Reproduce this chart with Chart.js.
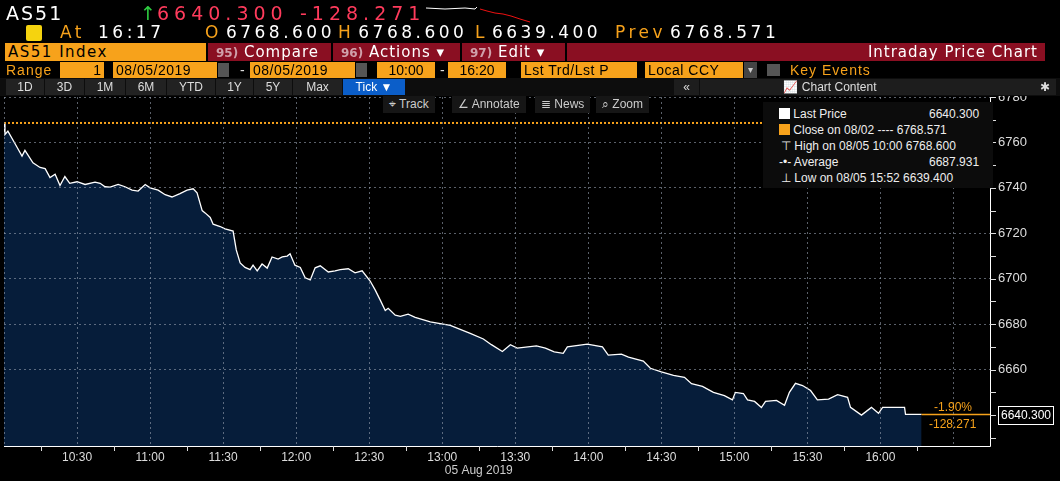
<!DOCTYPE html>
<html><head><meta charset="utf-8">
<script src="https://cdn.jsdelivr.net/npm/chart.js@4.4.1/dist/chart.umd.min.js"></script>
<style>
body{margin:0;background:#000;width:1060px;height:481px;overflow:hidden;font-family:"Liberation Sans",Arial,sans-serif;}
#c{position:absolute;left:0;top:0;}
.t{position:absolute;white-space:nowrap;line-height:1;}
.r1{font-family:"DejaVu Sans",sans-serif;font-size:19px;letter-spacing:5px;top:4px;}
.r2{font-family:"DejaVu Sans",sans-serif;font-size:17px;letter-spacing:3.5px;top:24px;}
.box{position:absolute;background:#f7a21b;color:#000;font-size:14px;line-height:16px;padding:0 3px;box-sizing:border-box;white-space:nowrap;}
.red{position:absolute;background:#8a0f22;color:#fff;font-family:"DejaVu Sans",sans-serif;font-size:15px;letter-spacing:1px;line-height:18px;box-sizing:border-box;white-space:nowrap;}
.red b{color:#d0a0aa;font-weight:bold;font-size:12px;letter-spacing:0;}
.btn{position:absolute;top:79px;height:16px;background:#222;color:#ddd;font-size:12px;line-height:16px;text-align:center;}
.tool{position:absolute;top:96px;height:17px;background:#161616;color:#ccc;font-size:12px;line-height:17px;padding:0 6px;}
.lg{position:absolute;font-size:12px;color:#eee;line-height:1;white-space:nowrap;}
</style></head><body>
<canvas id="c" width="1060" height="481"></canvas>

<div class="t r1" style="left:6px;color:#fff;letter-spacing:2px;">AS51</div>
<div class="t r1" style="left:140px;color:#2ecc40;">↑</div>
<div class="t r1" style="left:157px;color:#ff3b5c;">6640.300</div>
<div class="t r1" style="left:300px;color:#ff3b5c;">-128.271</div>
<svg style="position:absolute;left:425px;top:4px" width="110" height="22"><polyline points="1,4 20,5 40,4 50,5 52,3" stroke="#fff" fill="none" stroke-width="1"/><polyline points="55,5 62,7 70,9 78,10 86,12 95,15 105,18" stroke="#e11" fill="none" stroke-width="1"/></svg>
<div class="t" style="left:26px;top:25px;width:16px;height:16px;background:#f5d30f;border-radius:2px;"></div>
<div class="t r2" style="left:60px;color:#f7a21b;">At</div>
<div class="t r2" style="left:98px;color:#fff;">16:17</div>
<div class="t r2" style="left:205px;color:#f7a21b;">O<span style="color:#fff;margin-left:4px">6768.600</span></div>
<div class="t r2" style="left:338px;color:#f7a21b;">H<span style="color:#fff;margin-left:4px">6768.600</span></div>
<div class="t r2" style="left:475px;color:#f7a21b;">L<span style="color:#fff;margin-left:4px">6639.400</span></div>
<div class="t r2" style="left:615px;color:#f7a21b;">Prev<span style="color:#fff;margin-left:4px">6768.571</span></div>

<div class="box" style="left:5px;top:43px;width:201px;height:18px;font-family:'DejaVu Sans';font-size:15px;letter-spacing:1.5px;line-height:18px;">AS51 Index</div>
<div class="red" style="left:208px;top:43px;width:123px;height:18px;padding-left:8px;"><b>95)</b> Compare</div>
<div class="red" style="left:333px;top:43px;width:127px;height:18px;padding-left:8px;"><b>96)</b> Actions ▾</div>
<div class="red" style="left:462px;top:43px;width:103px;height:18px;padding-left:8px;"><b>97)</b> Edit ▾</div>
<div class="red" style="left:567px;top:43px;width:478px;height:18px;text-align:right;padding-right:7px;">Intraday Price Chart</div>

<div class="t" style="left:6px;top:63px;font-size:14px;color:#f7a21b;letter-spacing:1px;">Range</div>
<div class="box" style="left:60px;top:62px;width:44px;height:16px;text-align:right;">1</div>
<div class="box" style="left:113px;top:62px;width:104px;height:16px;letter-spacing:0.5px;">08/05/2019</div>
<div class="t" style="left:218px;top:63px;width:11px;height:14px;background:#555;"></div>
<div class="t" style="left:240px;top:63px;font-size:14px;color:#ddd;">-</div>
<div class="box" style="left:250px;top:62px;width:105px;height:16px;letter-spacing:0.5px;">08/05/2019</div>
<div class="t" style="left:356px;top:63px;width:11px;height:14px;background:#555;"></div>
<div class="box" style="left:377px;top:62px;width:58px;height:16px;text-align:center;">10:00</div>
<div class="t" style="left:440px;top:63px;font-size:14px;color:#ddd;">-</div>
<div class="box" style="left:448px;top:62px;width:58px;height:16px;text-align:center;">16:20</div>
<div class="box" style="left:521px;top:62px;width:116px;height:16px;letter-spacing:0.5px;">Lst Trd/Lst P</div>
<div class="box" style="left:645px;top:62px;width:98px;height:16px;letter-spacing:0.5px;">Local CCY</div>
<div class="t" style="left:744px;top:62px;width:13px;height:16px;background:#444;color:#ccc;font-size:10px;text-align:center;line-height:16px;">▾</div>
<div class="t" style="left:767px;top:64px;width:13px;height:12px;background:#555;"></div>
<div class="t" style="left:790px;top:63px;font-size:14px;color:#f7a21b;letter-spacing:1px;">Key Events</div>

<div style="position:absolute;left:0;top:78px;width:1060px;height:18px;background:#0d0d0d;"></div>
<div class="btn" style="left:6px;width:38px;">1D</div>
<div class="btn" style="left:45px;width:39px;">3D</div>
<div class="btn" style="left:85px;width:40px;">1M</div>
<div class="btn" style="left:126px;width:40px;">6M</div>
<div class="btn" style="left:167px;width:48px;">YTD</div>
<div class="btn" style="left:216px;width:37px;">1Y</div>
<div class="btn" style="left:254px;width:38px;">5Y</div>
<div class="btn" style="left:293px;width:49px;">Max</div>
<div class="btn" style="left:343px;width:62px;background:#0b5ec9;color:#fff;">Tick ▼</div>
<div class="btn" style="left:674px;width:25px;background:#1d1d1d;">«</div>
<div class="btn" style="left:700px;width:260px;background:#1d1d1d;">📈 Chart Content</div>
<div class="btn" style="left:926px;width:130px;background:#1d1d1d;text-align:right;padding-right:6px;box-sizing:border-box;">✱</div>
<div class="tool" style="left:383px;">⌖ Track</div>
<div class="tool" style="left:452px;">∠ Annotate</div>
<div class="tool" style="left:535px;">≣ News</div>
<div class="tool" style="left:596px;">⌕ Zoom</div>
<div style="position:absolute;left:763px;top:102px;width:230px;height:86px;background:#0c0c0c;"></div>
<div class="lg" style="left:779px;top:108px;"><span style="display:inline-block;width:11px;height:11px;background:#fff;vertical-align:-1px;"></span> Last Price</div>
<div class="lg" style="left:929px;top:108px;">6640.300</div>
<div class="lg" style="left:779px;top:124px;"><span style="display:inline-block;width:11px;height:11px;background:#f7a21b;vertical-align:-1px;"></span> Close on 08/02 ---- 6768.571</div>
<div class="lg" style="left:781px;top:140px;">⊤ High on 08/05 10:00 6768.600</div>
<div class="lg" style="left:779px;top:156px;">-•- Average</div>
<div class="lg" style="left:929px;top:156px;">6687.931</div>
<div class="lg" style="left:781px;top:172px;">⊥ Low on 08/05 15:52 6639.400</div>
<div class="t" style="left:934px;top:401px;font-size:12px;color:#f7a21b;">-1.90%</div>
<div class="t" style="left:929px;top:418px;font-size:12px;color:#f7a21b;">-128.271</div>
<div class="t" style="left:998px;top:406px;width:54px;height:17px;border:1px solid #fff;background:#000;color:#fff;font-size:12px;line-height:17px;text-align:center;">6640.300</div>

<script>
// minutes after 10:00 open
const minutesAfterOpen = [0,0.4,1.6,5.3,7.4,8.6,11.9,14.8,16.9,18.9,21,23,25,27,30,33.3,37.4,39.5,41.5,43.6,46.9,49.7,52.6,55.1,58,60,63.3,66.2,69,72.3,75.2,77.7,79.3,81.4,82.6,84.7,85.9,88.8,90.8,94.1,95.4,97,99,101.1,102.3,104,106,108.1,110.1,112.6,114.3,116.3,117.5,119.5,121.7,123.7,125.8,127.8,129.9,133.2,136,138.1,141.4,144.2,147.1,150.4,152.5,154.5,156.6,157.8,160.7,162.8,166,168.9,175.1,183.3,191.5,196.9,200.2,204.7,208,210.8,218.7,222.4,226,229.7,231.4,239.6,245.8,248.2,253.6,256.5,262.6,265.5,270,275,279.5,282.4,286.9,291.4,295.9,299.2,300.4,303.7,305.4,308.3,311.1,312.8,317.3,320.6,322.6,325.1,328,331.3,334.1,338.7,342.4,346.5,347.7,352.2,356.3,359.2,360.9,369.9,370.3,376.9];
const lastPrice = [6768.6,6763.5,6765,6758,6754,6756.5,6751,6749,6748.5,6744.5,6746,6741,6745,6742,6742.7,6741.5,6742.5,6742,6740.5,6740.3,6741.5,6740.5,6739,6738.6,6741.5,6740,6739,6737,6736,6737.5,6739,6739.6,6737.8,6730,6729,6727,6724,6723,6722,6721,6712.7,6707,6705,6704,6706,6703.5,6706.5,6704.7,6709.6,6708.7,6709.6,6710,6711,6706,6705,6700.4,6699.5,6704.8,6705.7,6703,6703.5,6704,6704.4,6702.6,6703.5,6699,6695,6690.7,6686,6687,6684,6683.5,6684.4,6683,6681,6679.5,6676,6673.5,6671,6668,6671,6669.5,6670.5,6669.5,6667.8,6667.2,6670,6671.2,6670,6666.4,6666.8,6665.5,6663.8,6660.6,6659,6657.5,6656.6,6653.8,6652.6,6650,6648.6,6646.7,6650,6649.5,6646.7,6646,6643.3,6646,6646.5,6644.3,6650,6654,6653,6650.8,6646.7,6647,6649,6647.8,6643.4,6640,6643.4,6640.8,6643.4,6643.4,6640.3,6640.3];
const prevClose = 6768.571;
const lastValue = 6640.3;
const yTickLabels = [6660,6680,6700,6720,6740,6760,6780];
const dateLabel = "05 Aug 2019";

const pts = minutesAfterOpen.map((m,i)=>({x:m,y:lastPrice[i]}));
function hhmm(m){const t=600+m;return Math.floor(t/60)+":"+String(t%60).padStart(2,'0');}

const overlay = {
  id:'overlay',
  afterDatasetsDraw(ch){
    const {ctx,chartArea:a,scales:{x,y}}=ch;
    ctx.save();
    ctx.strokeStyle='#f7a21b';ctx.lineWidth=2;ctx.setLineDash([2,2]);
    const yp=y.getPixelForValue(prevClose);
    ctx.beginPath();ctx.moveTo(a.left,yp);ctx.lineTo(a.right,yp);ctx.stroke();
    ctx.setLineDash([]);ctx.lineWidth=1.5;
    const yl=y.getPixelForValue(lastValue);
    const xe=x.getPixelForValue(minutesAfterOpen[minutesAfterOpen.length-1]);
    ctx.beginPath();ctx.moveTo(xe,yl);ctx.lineTo(a.right,yl);ctx.stroke();
    // axis borders
    ctx.strokeStyle='#fff';ctx.lineWidth=1;
    ctx.beginPath();ctx.moveTo(a.left,a.bottom+0.5);ctx.lineTo(a.right+0.5,a.bottom+0.5);ctx.lineTo(a.right+0.5,a.top);ctx.stroke();
    ctx.fillStyle='#ccc';ctx.font='12px "Liberation Sans", Arial';ctx.textAlign='center';
    ctx.fillText(dateLabel,x.getPixelForValue(195),474);
    ctx.strokeStyle='#ddd';
    for(let m=15;m<405;m+=30){const px=Math.round(x.getPixelForValue(m))+0.5;ctx.beginPath();ctx.moveTo(px,a.bottom);ctx.lineTo(px,a.bottom+5);ctx.stroke();}
    y.ticks.forEach(t=>{const py=Math.round(y.getPixelForValue(t.value))+0.5;ctx.beginPath();ctx.moveTo(a.right,py);ctx.lineTo(a.right+6,py);ctx.stroke();});
    ctx.restore();
  }
};

new Chart(document.getElementById('c'),{
  type:'line',
  data:{datasets:[{data:pts,borderColor:'#fff',borderWidth:1.3,pointRadius:0,fill:'start',backgroundColor:'#061d3a',tension:0}]},
  options:{
    responsive:false,animation:false,
    layout:{padding:{top:97,left:4,right:0,bottom:0}},
    plugins:{legend:{display:false},tooltip:{enabled:false}},
    scales:{
      x:{type:'linear',min:0,max:405,
        afterFit(s){s.height=35;},
        border:{display:false,dash:[2,3]},
        grid:{z:1,color:c=>(c.tick&&c.tick.value%30===0)?'rgba(150,160,175,0.6)':'transparent',drawTicks:false},
        ticks:{stepSize:15,autoSkip:false,maxRotation:0,color:'#ddd',font:{size:12,family:'"Liberation Sans", Arial'},padding:4,
          callback:v=>(v%30===0&&v>0&&v<=360)?hhmm(v):''}},
      y:{position:'right',min:6626.4,max:6780,
        afterFit(s){s.width=70;},
        border:{display:false,dash:[2,3]},
        grid:{z:1,color:c=>(c.tick&&yTickLabels.includes(c.tick.value))?'rgba(150,160,175,0.6)':'transparent',drawTicks:false},
        afterBuildTicks(s){s.ticks=[6630,6640,6650,6660,6670,6680,6690,6700,6710,6720,6730,6740,6750,6760,6770,6780].map(v=>({value:v}));},
        ticks:{color:'#ddd',font:{size:13,family:'"Liberation Sans", Arial'},padding:8,
          callback:v=>yTickLabels.includes(v)?String(v):''}}
    }
  },
  plugins:[overlay]
});
</script>
</body></html>
